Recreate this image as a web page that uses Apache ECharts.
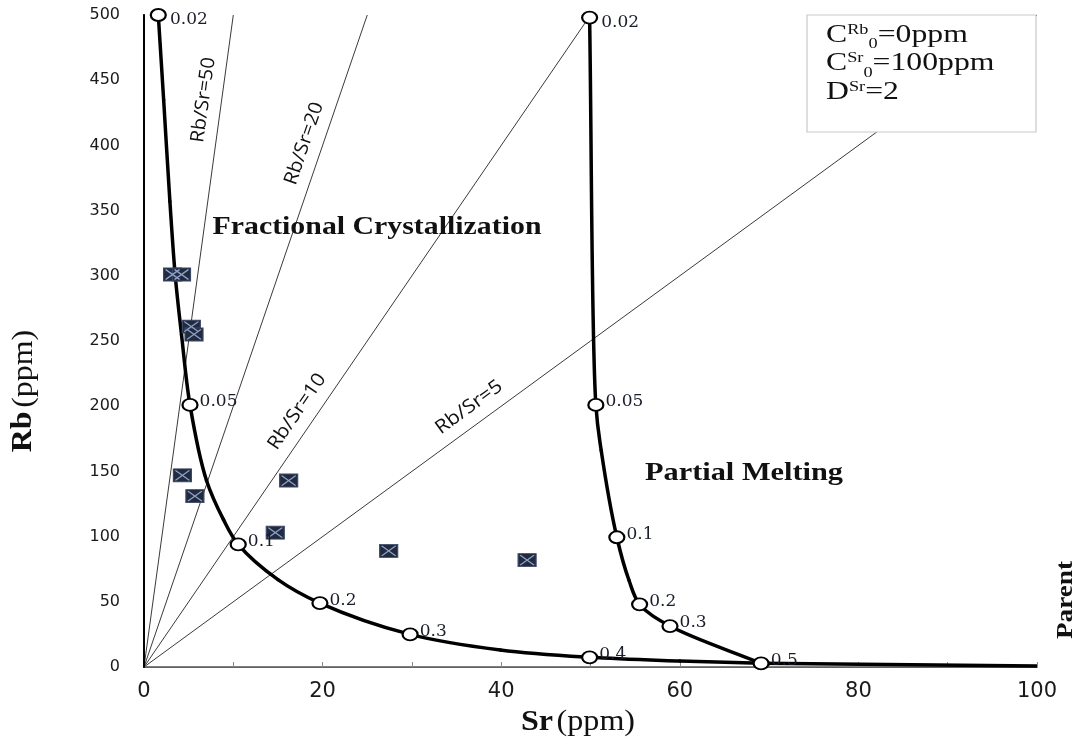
<!DOCTYPE html>
<html>
<head>
<meta charset="utf-8">
<script src="https://cdn.jsdelivr.net/npm/echarts@6/dist/echarts.min.js"></script>
<style>
  html, body { margin: 0; padding: 0; background: #fff; }
  #chart { width: 1081px; height: 742px; }
</style>
</head>
<body>
<div id="chart"></div>
<script>
// ---- data (Sr, Rb in ppm) ----
// Fractional crystallisation path; labelled nodes carry the fraction F
const fcSr = [1.6, 2.2, 2.9, 3.5, 4.2, 5.15, 7.0, 8.9, 10.55, 15.0, 19.7, 29.8, 39.9, 49.9, 60.0, 69.1];
const fcRb = [500, 435, 357, 300, 255, 201, 143, 113, 94, 67, 49, 25, 13, 7.4, 4.6, 2.8];
const fcF  = ['0.02', '', '', '', '', '0.05', '', '', '0.1', '', '0.2', '0.3', '', '0.4', '', ''];

// Partial melting path
const pmSr = [49.9, 50.6, 51.2, 52.95, 54.3, 55.5, 58.9, 69.1];
const pmRb = [498, 201, 166, 99.5, 66.7, 48.1, 31.4, 2.8];
const pmF  = ['0.02', '0.05', '', '0.1', '', '0.2', '0.3', '0.5'];

// Residual path towards the parent composition
const tailSr = [69.1, 100];
const tailRb = [2.8, 0.8];

// Analysed samples
const sampleSr = [3.2, 4.2, 5.3, 5.6, 4.3, 5.7, 16.2, 14.7, 27.4, 42.9];
const sampleRb = [301, 301, 261, 255, 147, 131, 143, 103, 89, 82];

// Reference Rb/Sr ratio lines
const ratioValues = [50, 20, 10, 5];

// Axis ranges
const SR_MAX = 100, RB_MAX = 500;

// ---- helpers ----
const measureCtx = document.createElement('canvas').getContext('2d');
function textWidth(str, font) { measureCtx.font = font; return measureCtx.measureText(str).width; }

// Centripetal Catmull-Rom segment -> cubic Bezier control points
function crControls(p0, p1, p2, p3) {
  const a = 0.5;
  const d1 = Math.max(1e-6, Math.hypot(p1[0] - p0[0], p1[1] - p0[1]));
  const d2 = Math.max(1e-6, Math.hypot(p2[0] - p1[0], p2[1] - p1[1]));
  const d3 = Math.max(1e-6, Math.hypot(p3[0] - p2[0], p3[1] - p2[1]));
  const d1a = Math.pow(d1, a), d2a = Math.pow(d2, a), d3a = Math.pow(d3, a);
  const d1a2 = d1a * d1a, d2a2 = d2a * d2a, d3a2 = d3a * d3a;
  const b1 = [0, 1].map(k => (d1a2 * p2[k] - d2a2 * p0[k] + (2 * d1a2 + 3 * d1a * d2a + d2a2) * p1[k]) / (3 * d1a * (d1a + d2a)));
  const b2 = [0, 1].map(k => (d3a2 * p1[k] - d2a2 * p3[k] + (2 * d3a2 + 3 * d3a * d2a + d2a2) * p2[k]) / (3 * d3a * (d3a + d2a)));
  return [b1, b2];
}

// Smooth curve through the path points, placed with the chart's own coordinate system
function splineSeries(name, sr, rb) {
  const n = sr.length;
  return {
    name, type: 'custom', silent: true, z: 4, clip: false,
    data: sr.map((x, i) => [x, rb[i]]),
    renderItem: (params, api) => {
      const i = params.dataIndex;
      if (i >= n - 1) return null;
      const P = k => api.coord([sr[k], rb[k]]);
      const p1 = P(i), p2 = P(i + 1);
      const p0 = i > 0 ? P(i - 1) : [2 * p1[0] - p2[0], 2 * p1[1] - p2[1]];
      const p3 = i + 2 < n ? P(i + 2) : [2 * p2[0] - p1[0], 2 * p2[1] - p1[1]];
      const [c1, c2] = crControls(p0, p1, p2, p3);
      return {
        type: 'bezierCurve',
        shape: { x1: p1[0], y1: p1[1], cpx1: c1[0], cpy1: c1[1], cpx2: c2[0], cpy2: c2[1], x2: p2[0], y2: p2[1] },
        style: { fill: null, stroke: '#000', lineWidth: 3.5, lineCap: 'round' }
      };
    }
  };
}

// White ring markers with their F labels
function nodeSeries(name, sr, rb, f) {
  const data = [];
  sr.forEach((x, i) => {
    if (!f[i]) return;
    const item = { value: [x, rb[i]], name: f[i] };
    if (rb[i] > RB_MAX - 5) item.label = { offset: [2, 5] };
    data.push(item);
  });
  return {
    name, type: 'scatter', silent: true, z: 8, data,
    symbol: 'circle', symbolSize: [15, 12],
    itemStyle: { color: '#fff', borderColor: '#000', borderWidth: 2, opacity: 1 },
    label: {
      show: true, position: 'right', distance: 1, offset: [0, -3],
      formatter: p => p.name,
      fontFamily: 'DejaVu Serif', fontSize: 17, color: '#1a1d2a'
    }
  };
}

const chart = echarts.init(document.getElementById('chart'), null, { renderer: 'canvas' });

const option = {
  animation: false,
  grid: { left: 144, right: 44, top: 15, bottom: 75, containLabel: false },
  xAxis: [
    {
      type: 'value', min: 0, max: SR_MAX, interval: 10,
      axisLine: { show: true, lineStyle: { color: '#8a8a8a', width: 1 } },
      axisTick: { show: true, inside: true, length: 5, lineStyle: { color: '#8a8a8a' } },
      splitLine: { show: false },
      axisLabel: {
        formatter: v => (v % 20 === 0 ? String(v) : ''),
        fontFamily: 'DejaVu Sans', fontSize: 21, color: '#1a1a1a', margin: 14
      }
    },
    {
      type: 'value', position: 'top', min: 0, max: SR_MAX,
      axisLine: { show: true, lineStyle: { color: '#555', width: 1.5 } },
      axisTick: { show: false }, axisLabel: { show: false }, splitLine: { show: false }
    }
  ],
  yAxis: [
    {
      type: 'value', min: 0, max: RB_MAX, interval: 50,
      axisLine: { show: true, lineStyle: { color: '#000', width: 1.5 } },
      axisTick: { show: false }, splitLine: { show: false },
      axisLabel: { fontFamily: 'DejaVu Sans', fontSize: 16, color: '#1a1a1a', margin: 24 }
    },
    {
      type: 'value', position: 'right', min: 0, max: RB_MAX, z: 30,
      axisLine: { show: true, lineStyle: { color: '#000', width: 2 } },
      axisTick: { show: false }, axisLabel: { show: false }, splitLine: { show: false }
    }
  ],
  series: [
    ...ratioValues.map(r => ({
      name: 'Rb/Sr=' + r, type: 'line', silent: true, z: 2,
      data: [[0, 0], [RB_MAX / r, RB_MAX]],
      symbol: 'none', lineStyle: { color: '#3a3a3a', width: 1 }
    })),
    splineSeries('Fractional Crystallization', fcSr, fcRb),
    splineSeries('Partial Melting', pmSr, pmRb),
    {
      name: 'Parent', type: 'line', silent: true, z: 3,
      data: tailSr.map((x, i) => [x, tailRb[i]]),
      symbol: 'none', lineStyle: { color: '#000', width: 3.5 }
    },
    {
      name: 'Samples', type: 'scatter', z: 6, silent: true,
      data: sampleSr.map((x, i) => [x, sampleRb[i]]),
      symbol: 'rect', symbolSize: [18, 13],
      itemStyle: { color: '#222a3d', borderColor: '#3b4868', borderWidth: 1, opacity: 1 }
    },
    {
      name: 'Samples cross', type: 'scatter', z: 7, silent: true,
      data: sampleSr.map((x, i) => [x, sampleRb[i]]),
      symbol: 'path://M0,0L16,11M16,0L0,11', symbolSize: [14, 10],
      itemStyle: { color: 'transparent', borderColor: '#8ea2cc', borderWidth: 1.3, opacity: 1 }
    },
    nodeSeries('FC nodes', fcSr, fcRb, fcF),
    nodeSeries('PM nodes', pmSr, pmRb, pmF)
  ]
};

chart.setOption(option);

// ---- annotations ----
function fittedText(id, str, font, targetW, x, y, extra) {
  const sx = targetW / textWidth(str, font);
  return Object.assign({
    type: 'text', id, x, y, scaleX: sx, z: 50,
    style: { text: str, font, fill: '#111', align: 'center', verticalAlign: 'middle',
             textAlign: 'center', textVerticalAlign: 'middle' }
  }, extra || {});
}

// Parameter box lines: [symbol, superscript, subscript, rest]
const boxLines = [
  ['C', 'Rb', '0', '=0ppm'],
  ['C', 'Sr', '0', '=100ppm'],
  ['D', 'Sr', '', '=2']
];

function boxGraphics() {
  const els = [{
    type: 'rect', id: 'box', z: 20,
    shape: { x: 807, y: 15, width: 229, height: 117 },
    style: { fill: '#fff', stroke: '#c9c9c9', lineWidth: 1.2 }
  }];
  const mainFont = '26px "Liberation Serif"';
  const smallFont = '15px "Liberation Serif"';
  const sx = 1.22;
  boxLines.forEach((parts, li) => {
    const base = 44 + li * 28.4;
    let x = 826;
    const pieces = [
      [parts[0], mainFont, base, 26],
      [parts[1], smallFont, base - 9, 15],
      [parts[2], smallFont, base + 5.5, 15],
      [parts[3], mainFont, base, 26]
    ];
    pieces.forEach(([t, font, bl, size], pi) => {
      if (!t) return;
      els.push({
        type: 'text', id: 'box' + li + '_' + pi, z: 21, x, y: bl - 0.34 * size, scaleX: sx,
        style: { text: t, font, fill: '#111', align: 'left', verticalAlign: 'middle',
                 textAlign: 'left', textVerticalAlign: 'middle' }
      });
      x += textWidth(t, font) * sx;
    });
  });
  return els;
}

function ratioLabels() {
  const anchorRb = [433, 397, 188, 188];
  const lengths = [86, 86, 88, 78];
  const gap = 18;
  return ratioValues.map((r, i) => {
    const p0 = chart.convertToPixel({ gridIndex: 0 }, [0, 0]);
    const p1 = chart.convertToPixel({ gridIndex: 0 }, [RB_MAX / r, RB_MAX]);
    const ang = Math.atan2(p0[1] - p1[1], p1[0] - p0[0]);
    const foot = chart.convertToPixel({ gridIndex: 0 }, [anchorRb[i] / r, anchorRb[i]]);
    const nx = -Math.sin(ang), ny = -Math.cos(ang);
    return fittedText('ratio' + r, 'Rb/Sr=' + r, '19px "Open Sans"', lengths[i],
      foot[0] + gap * nx, foot[1] + gap * ny, { rotation: ang, z: 10 });
  });
}

const serifBold = 'bold 25px "Liberation Serif"';
const graphics = [
  ...boxGraphics(),
  ...ratioLabels(),
  fittedText('fc', 'Fractional Crystallization', serifBold, 329, 377, 228),
  fittedText('pm', 'Partial Melting', serifBold, 198, 744, 474),
  fittedText('parent', 'Parent', 'bold 24px "Liberation Serif"', 78, 1066, 600, { rotation: Math.PI / 2 }),
  {
    type: 'text', id: 'xname', x: 578, y: 722, z: 50, scaleX: 1.07,
    style: {
      text: '{b|Sr} {n|(ppm)}', align: 'center', verticalAlign: 'middle',
      textAlign: 'center', textVerticalAlign: 'middle',
      rich: {
        b: { font: 'bold 30px "Liberation Serif"', fill: '#111' },
        n: { font: '30px "Liberation Serif"', fill: '#111' }
      }
    }
  },
  {
    type: 'text', id: 'yname', x: 24, y: 391, z: 50, rotation: Math.PI / 2, scaleX: 1.1,
    style: {
      text: '{b|Rb} {n|(ppm)}', align: 'center', verticalAlign: 'middle',
      textAlign: 'center', textVerticalAlign: 'middle',
      rich: {
        b: { font: 'bold 29px "Liberation Serif"', fill: '#111' },
        n: { font: '29px "Liberation Serif"', fill: '#111' }
      }
    }
  }
];

chart.setOption({ graphic: graphics });
</script>
</body>
</html>
